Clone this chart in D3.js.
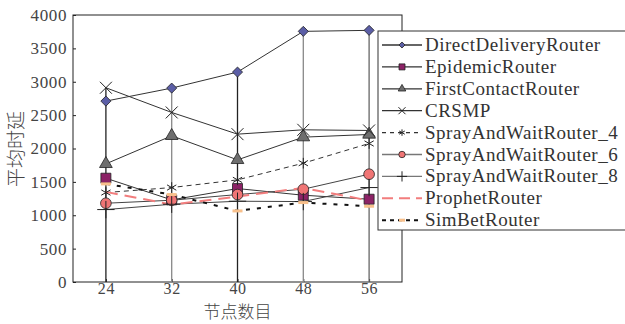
<!DOCTYPE html>
<html>
<head>
<style>
  body { margin: 0; background: #fff; }
  svg { display: block; }
</style>
</head>
<body>
<svg width="625" height="324"></svg>
<script src="https://d3js.org/d3.v7.min.js"></script>
<script>
// node counts on the x axis
const nodeCounts = [24, 32, 40, 48, 56];

// average delay per router
const directDelivery = [2710, 2905, 3145, 3755, 3770];
const epidemic = [1555, 1230, 1400, 1300, 1240];
const firstContact = [1770, 2190, 1830, 2170, 2210];
const crsmp = [2910, 2540, 2215, 2280, 2270];
const sprayWait4 = [1340, 1415, 1530, 1780, 2075];
const sprayWait6 = [1180, 1225, 1310, 1390, 1615];
const sprayWait8 = [1085, 1165, 1210, 1205, 1415];
const prophet = [1350, 1160, 1280, 1410, 1220];
const simBet = [1470, 1310, 1065, 1190, 1135];

const yTicks = [0, 500, 1000, 1500, 2000, 2500, 3000, 3500, 4000];

const series = [
  { name: "DirectDeliveryRouter", values: directDelivery, stroke: "#333", dash: null, width: 1, marker: "diamond", fill: "#5b5ea6" },
  { name: "EpidemicRouter", values: epidemic, stroke: "#333", dash: null, width: 1, marker: "square", fill: "#8c2266" },
  { name: "FirstContactRouter", values: firstContact, stroke: "#333", dash: null, width: 1, marker: "triangle", fill: "#6e6e6e" },
  { name: "CRSMP", values: crsmp, stroke: "#333", dash: null, width: 1, marker: "times", fill: "none" },
  { name: "SprayAndWaitRouter_4", values: sprayWait4, stroke: "#333", dash: "5,4", width: 1, marker: "asterisk", fill: "none" },
  { name: "SprayAndWaitRouter_6", values: sprayWait6, stroke: "#444", dash: null, width: 1, marker: "circle", fill: "#f07575" },
  { name: "SprayAndWaitRouter_8", values: sprayWait8, stroke: "#444", dash: null, width: 1, marker: "plus", fill: "none" },
  { name: "ProphetRouter", values: prophet, stroke: "#f27d7d", dash: "12,7", width: 2, marker: null, fill: "none" },
  { name: "SimBetRouter", values: simBet, stroke: "#111", dash: "4,7", width: 2, marker: "bar", fill: "#f8c08c" }
];

const svg = d3.select("svg");
const margin = { top: 15, left: 73, right: 223, bottom: 42 };
const width = 625 - margin.left - margin.right;
const height = 324 - margin.top - margin.bottom;
const g = svg.append("g").attr("transform", `translate(${margin.left},${margin.top})`);

const x = d3.scaleLinear().domain([20, 60]).range([0, width]);
const y = d3.scaleLinear().domain([0, 4000]).range([height, 0]);

// frame
g.append("rect").attr("width", width).attr("height", height)
  .attr("fill", "none").attr("stroke", "#222").attr("stroke-width", 1);

// axes
const yAxis = g.append("g")
  .call(d3.axisLeft(y).tickValues(yTicks).tickSize(-3).tickPadding(6).tickFormat(d3.format("d")));
yAxis.attr("font-family", "Liberation Serif");
yAxis.select(".domain").remove();
yAxis.selectAll("line").attr("stroke", "#222");
yAxis.selectAll("text").attr("font-size", 17).attr("fill", "#444")
  .attr("font-family", "Liberation Serif").attr("letter-spacing", 0.6);

const xAxis = g.append("g").attr("transform", `translate(0,${height})`)
  .call(d3.axisBottom(x).tickValues(nodeCounts).tickSize(-3).tickPadding(1));
xAxis.attr("font-family", "Liberation Serif");
xAxis.select(".domain").remove();
xAxis.selectAll("line").attr("stroke", "#222");
xAxis.selectAll("text").attr("font-size", 16).attr("fill", "#444")
  .attr("font-family", "Liberation Serif").attr("letter-spacing", 0.6);

// vertical stems from the highest value down to zero
const stemColors = ["#222", "#888", "#222", "#888", "#666"];
g.append("g").selectAll("line")
  .data(nodeCounts)
  .join("line")
  .attr("x1", d => x(d)).attr("x2", d => x(d))
  .attr("y1", (d, i) => y(d3.max(series, s => s.values[i])))
  .attr("y2", y(0))
  .attr("stroke", (d, i) => stemColors[i])
  .attr("stroke-width", 1.3);

const line = d3.line().x((d, i) => x(nodeCounts[i])).y(d => y(d));

g.append("g").selectAll("path")
  .data(series)
  .join("path")
  .attr("d", d => line(d.values))
  .attr("fill", "none")
  .attr("stroke", d => d.stroke)
  .attr("stroke-width", d => d.width)
  .attr("stroke-dasharray", d => d.dash);

function drawMarker(sel, type, fill, s) {
  if (type === "diamond") {
    sel.append("path").attr("d", d3.symbol(d3.symbolDiamond2, 65 * s * s)())
      .attr("fill", fill).attr("stroke", "#222").attr("stroke-width", 0.8);
  } else if (type === "square") {
    sel.append("path").attr("d", d3.symbol(d3.symbolSquare, 100 * s * s)())
      .attr("fill", fill).attr("stroke", "#222").attr("stroke-width", 0.8);
  } else if (type === "triangle") {
    sel.append("path").attr("d", d3.symbol(d3.symbolTriangle, 70 * s * s)())
      .attr("fill", fill).attr("stroke", "#222").attr("stroke-width", 0.8);
  } else if (type === "circle") {
    sel.append("path").attr("d", d3.symbol(d3.symbolCircle, 90 * s * s)())
      .attr("fill", fill).attr("stroke", "#222").attr("stroke-width", 0.8);
  } else if (type === "times") {
    sel.append("path").attr("d", d3.symbol(d3.symbolTimes, 95 * s * s)())
      .attr("fill", "none").attr("stroke", "#222").attr("stroke-width", 1);
  } else if (type === "asterisk") {
    sel.append("path").attr("d", d3.symbol(d3.symbolAsterisk, 80 * s * s)())
      .attr("fill", "none").attr("stroke", "#222").attr("stroke-width", 1);
  } else if (type === "plus") {
    sel.append("path").attr("d", d3.symbol(d3.symbolPlus, 100 * s * s)())
      .attr("fill", "none").attr("stroke", "#222").attr("stroke-width", 1);
  } else if (type === "bar") {
    sel.append("rect").attr("x", -5 * s).attr("y", -1.5).attr("width", 10 * s).attr("height", 3)
      .attr("fill", fill);
  }
}

series.forEach(s => {
  if (!s.marker) return;
  s.values.forEach((v, i) => {
    const m = g.append("g").attr("transform", `translate(${x(nodeCounts[i])},${y(v)})`);
    drawMarker(m, s.marker, s.fill, 1);
  });
});

// axis titles
svg.append("text")
  .attr("transform", "translate(23,149) rotate(-90)")
  .attr("text-anchor", "middle")
  .attr("font-family", "Noto Sans CJK SC")
  .attr("font-weight", 300)
  .attr("font-size", 19)
  .attr("fill", "#444")
  .text("平均时延");

svg.append("text")
  .attr("x", margin.left + x(40)).attr("y", 318)
  .attr("text-anchor", "middle")
  .attr("font-family", "Noto Sans CJK SC")
  .attr("font-weight", 300)
  .attr("font-size", 17)
  .attr("fill", "#444")
  .text("节点数目");

// legend
const legend = svg.append("g").attr("transform", "translate(378,31)");
legend.append("rect").attr("width", 260).attr("height", 199)
  .attr("fill", "#fff").attr("stroke", "#333").attr("stroke-width", 1);

const rows = legend.selectAll("g.row")
  .data(series)
  .join("g")
  .attr("class", "row")
  .attr("transform", (d, i) => `translate(0,${14 + i * 21.9})`);

rows.append("line")
  .attr("x1", 4).attr("x2", 44)
  .attr("stroke", d => d.name.endsWith("_6") || d.name.endsWith("_8") ? "#777" : d.stroke)
  .attr("stroke-width", d => d.width === 2 ? 2 : 1.3)
  .attr("stroke-dasharray", d => d.dash === "12,7" ? "11,6" : d.dash ? "4,4" : null);

rows.each(function(d) {
  if (!d.marker) return;
  const m = d3.select(this).append("g").attr("transform", "translate(24,0)");
  drawMarker(m, d.marker, d.fill, 0.6);
});

rows.append("text")
  .attr("x", 47).attr("y", 6)
  .attr("font-family", "Liberation Serif")
  .attr("font-size", 19)
  .attr("letter-spacing", 0.5)
  .attr("fill", "#333")
  .text(d => d.name);
</script>
</body>
</html>
